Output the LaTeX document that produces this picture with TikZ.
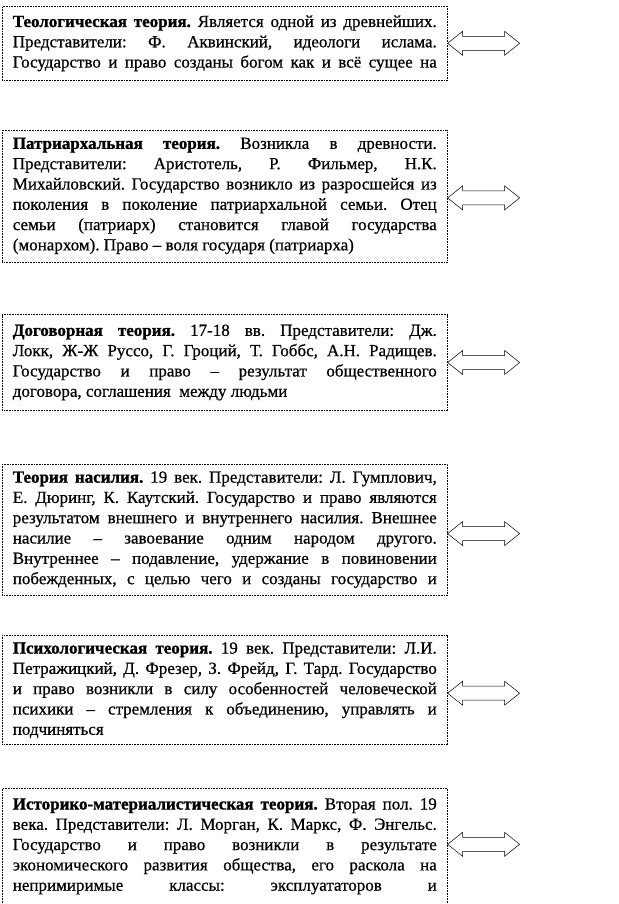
\documentclass[tikz,border=0pt]{standalone}
\usepackage{fontspec}
\setmainfont{Liberation Serif}[FakeBold=0.6, BoldFeatures={FakeBold=1.2}]
\usetikzlibrary{positioning}

\tikzset{
  theorybox/.style={draw, densely dotted, line width=0.6pt, fill=white,
    text width=424pt, inner xsep=10.5pt, inner ysep=0pt, align=justify,
    font=\fontsize{17}{20.3}\selectfont},
  twoway/.style={draw, solid, line width=0.5pt, fill=white, line join=miter}
}
\newcommand{\thname}[1]{\textbf{#1}}
\newcommand{\fulllast}{\parfillskip=0pt}

\begin{document}
\begin{tikzpicture}
\frenchspacing \tolerance=10000 \hbadness=10000
\useasboundingbox (0pt,0pt) rectangle (618pt,-904pt);

\node[theorybox, minimum height=74pt, anchor=north west] (teo) at (2pt,-6pt)
  {\fulllast \thname{Теологическая теория.} Является одной из древнейших.\linebreak
   Представители: Ф. Аквинский, идеологи ислама.\linebreak
   Государство и право созданы богом как и всё сущее на\par};

\node[theorybox, minimum height=132pt, below=49pt of teo] (patr)
  {\thname{Патриархальная теория.} Возникла в древности.\linebreak
   Представители: Аристотель, Р. Фильмер, Н.К.\linebreak
   Михайловский. Государство возникло из разросшейся из\linebreak
   поколения в поколение патриархальной семьи. Отец\linebreak
   семьи (патриарх) становится главой государства\linebreak
   (монархом). Право – воля государя (патриарха)};

\node[theorybox, minimum height=96pt, below=52pt of patr] (dog)
  {\thname{Договорная теория.} 17-18 вв. Представители: Дж.\linebreak
   Локк, Ж-Ж Руссо, Г. Гроций, Т. Гоббс, А.Н. Радищев.\linebreak
   Государство и право – результат общественного\linebreak
   договора, соглашения~ между людьми};

\node[theorybox, minimum height=131pt, below=53pt of dog] (nas)
  {\fulllast \thname{Теория насилия.} 19 век. Представители: Л. Гумплович,\linebreak
   Е. Дюринг, К. Каутский. Государство и право являются\linebreak
   результатом внешнего и внутреннего насилия. Внешнее\linebreak
   насилие – завоевание одним народом другого.\linebreak
   Внутреннее – подавление, удержание в повиновении\linebreak
   побежденных, с целью чего и созданы государство и\par};

\node[theorybox, minimum height=109pt, below=40pt of nas] (psy)
  {\thname{Психологическая теория.} 19 век. Представители: Л.И.\linebreak
   Петражицкий, Д. Фрезер, З. Фрейд, Г. Тард. Государство\linebreak
   и право возникли в силу особенностей человеческой\linebreak
   психики – стремления к объединению, управлять и\linebreak
   подчиняться};

\node[theorybox, minimum height=116pt, below=43pt of psy] (ist)
  {\fulllast \thname{Историко-материалистическая теория.} Вторая пол. 19\linebreak
   века. Представители: Л. Морган, К. Маркс, Ф. Энгельс.\linebreak
   Государство и право возникли в результате\linebreak
   экономического развития общества, его раскола на\linebreak
   непримиримые классы: эксплуататоров и\par};

% hollow double arrows right of each box
\foreach \b/\dy in {teo/0, patr/-2, dog/0, nas/-4, psy/-3, ist/2}
  \draw[twoway] ([yshift=\dy pt]\b.east) -- ++(15pt,12pt) -- ++(0,-5pt)
    -- ++(42pt,0) -- ++(0,5pt) -- ++(15pt,-12pt) -- ++(-15pt,-12pt)
    -- ++(0,5pt) -- ++(-42pt,0) -- ++(0,-5pt) -- cycle;

\end{tikzpicture}
\end{document}
